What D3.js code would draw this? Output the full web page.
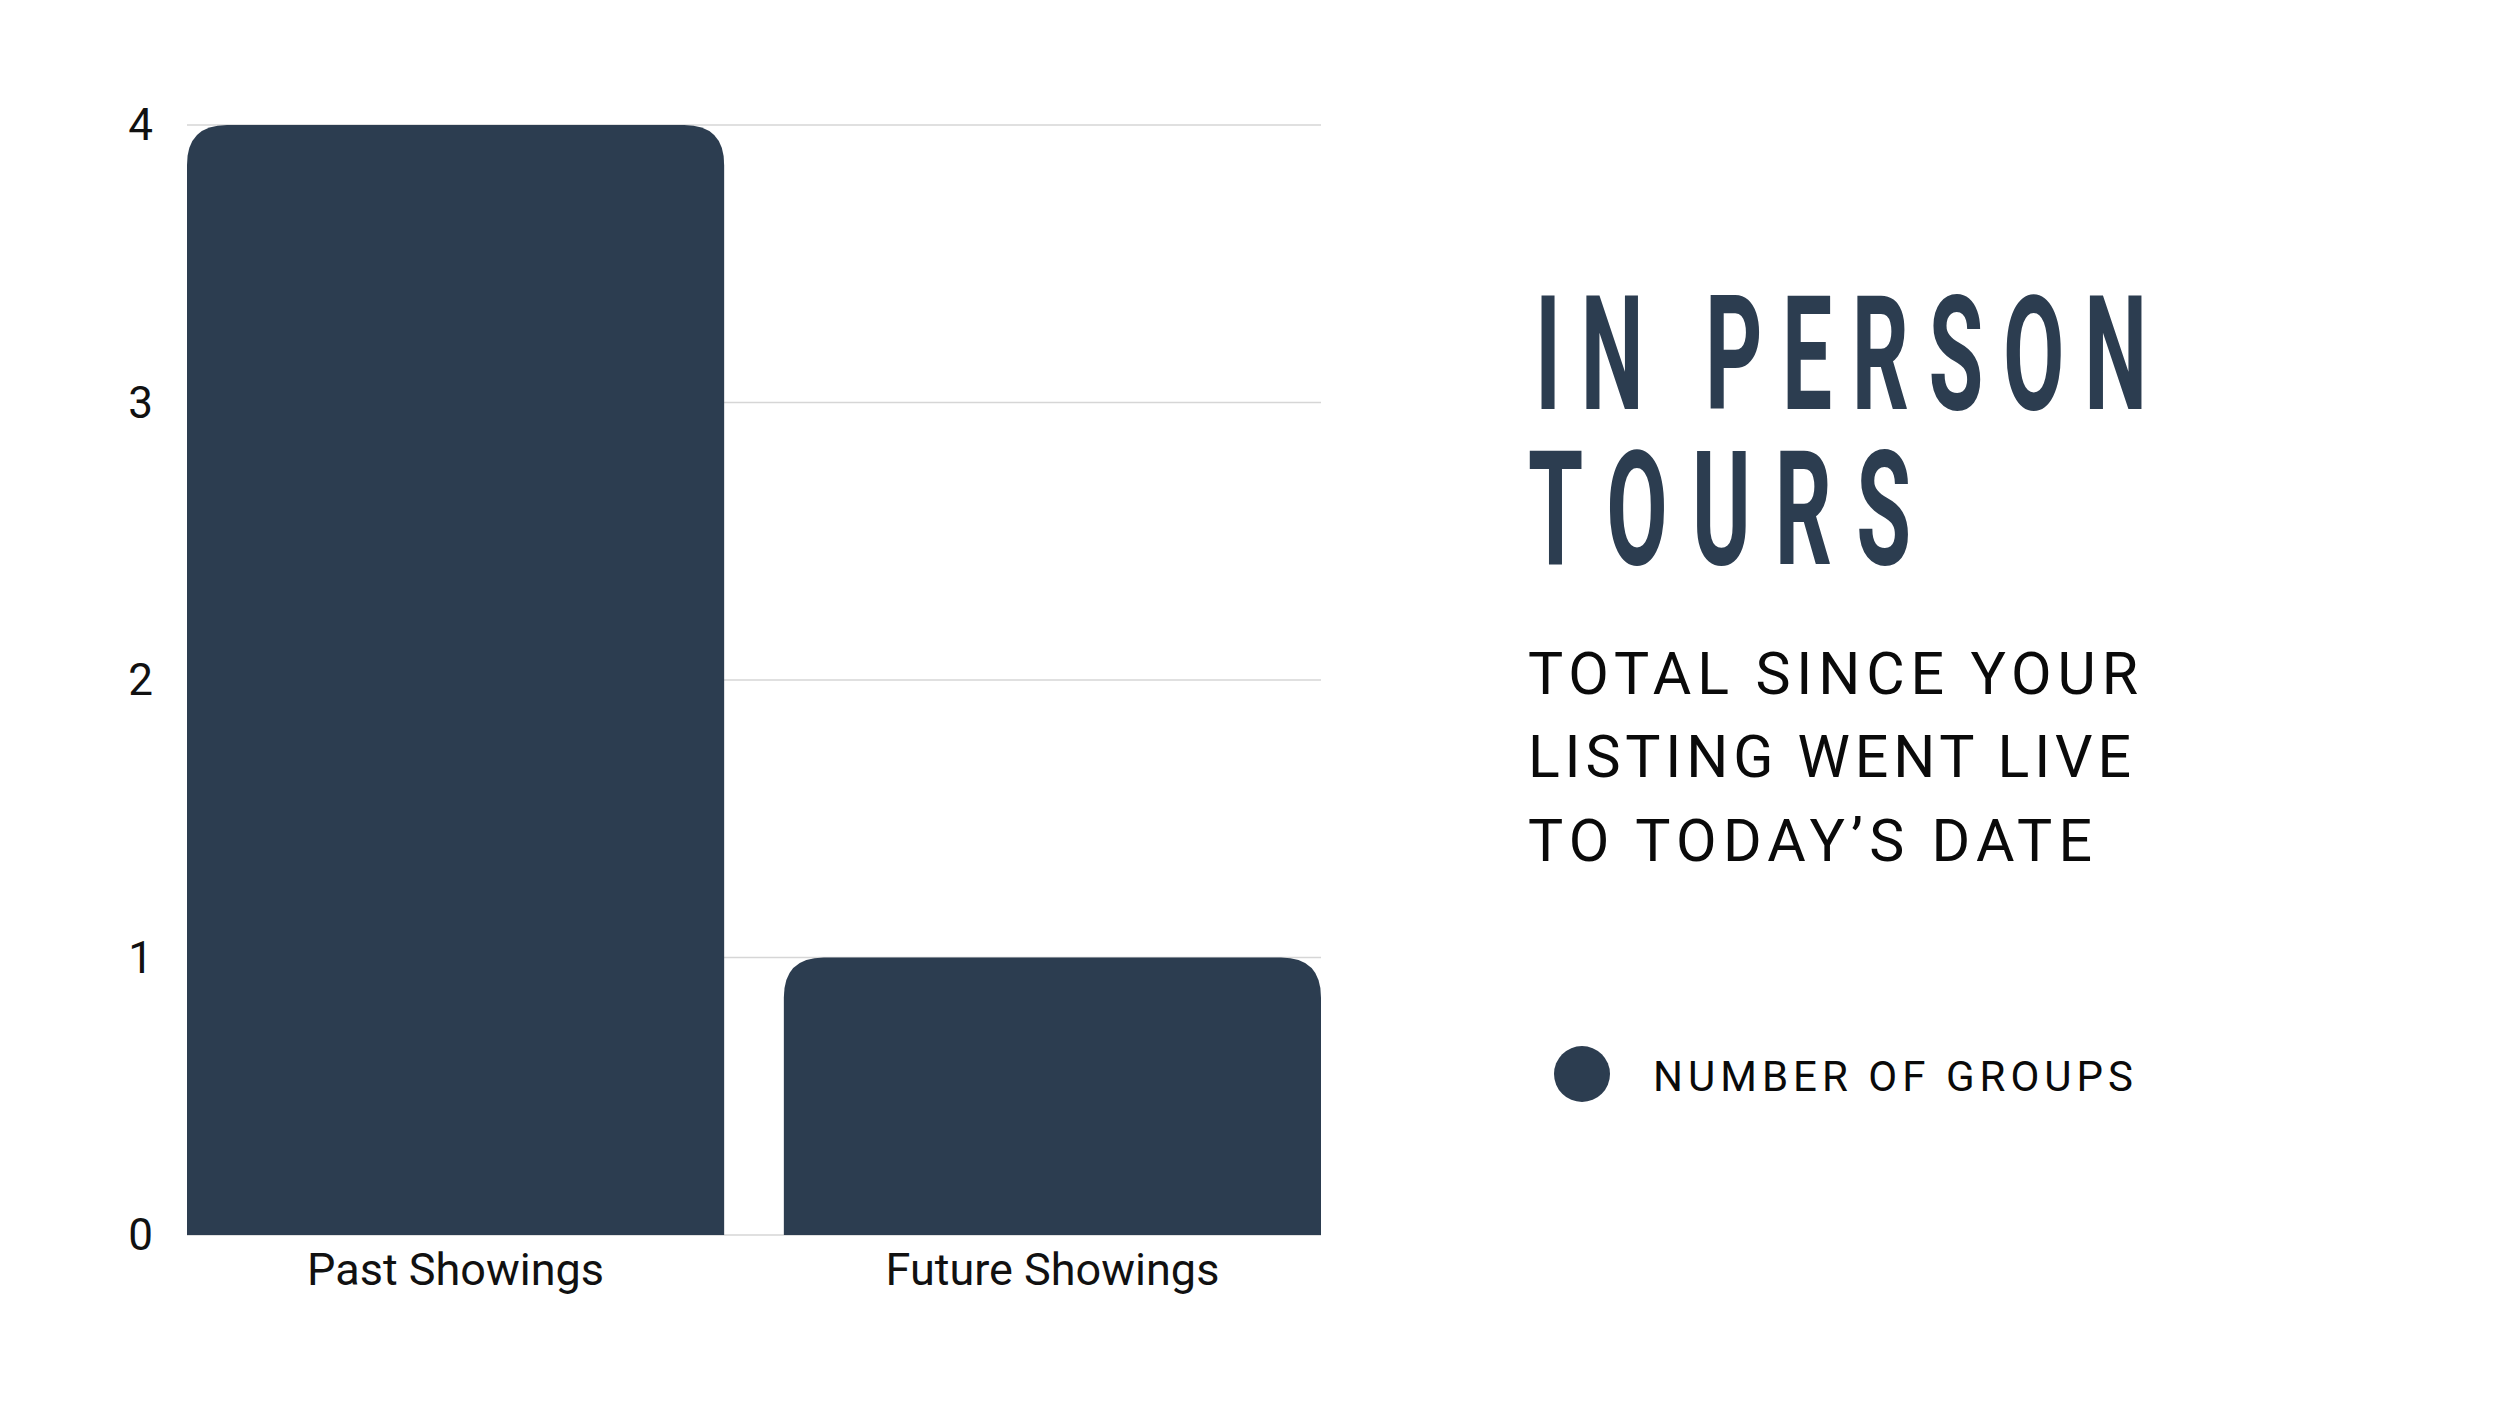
<!DOCTYPE html>
<html>
<head>
<meta charset="utf-8">
<script src="https://cdn.jsdelivr.net/npm/d3@7"></script>
<style>
  html, body { margin: 0; padding: 0; background: #ffffff; }
  svg { display: block; }
</style>
</head>
<body>
<svg id="chart" width="2500" height="1406"></svg>
<script>
// ---- data ----
const categories = ["Past Showings", "Future Showings"];
const values = [4, 1];
const yTicks = [0, 1, 2, 3, 4];
const seriesName = "NUMBER OF GROUPS";
const titleLines = ["IN PERSON", "TOURS"];
const subtitleLines = ["TOTAL SINCE YOUR", "LISTING WENT LIVE", "TO TODAY\u2019S DATE"];

// ---- style ----
const barColor = "#2c3d50";
const gridColor = "#d6d6d6";
const W = 2500, H = 1406;
const plot = { left: 187, right: 1321, top: 125, bottom: 1235 };

const svg = d3.select("#chart");
svg.append("rect").attr("width", W).attr("height", H).attr("fill", "#fff");

const x = d3.scaleBand().domain(categories).range([plot.left, plot.right])
  .paddingInner(0.1).paddingOuter(0);
const y = d3.scaleLinear().domain([0, 4]).range([plot.bottom, plot.top]);

// gridlines
svg.append("g").selectAll("line").data(yTicks).join("line")
  .attr("x1", plot.left).attr("x2", plot.right)
  .attr("y1", d => y(d)).attr("y2", d => y(d))
  .attr("stroke", gridColor).attr("stroke-width", 1.5);

// y tick labels (axis with hidden domain/ticks)
const yAxis = d3.axisLeft(y).tickValues(yTicks).tickSize(0).tickPadding(0).tickFormat(d3.format("d"));
const yg = svg.append("g").attr("transform", `translate(${plot.left - 34},0)`).call(yAxis);
yg.select(".domain").remove();
yg.selectAll("text").attr("font-family", "Roboto, sans-serif").attr("font-size", 44)
  .attr("fill", "#111").attr("dy", "0.34em");

// bars with rounded top corners
const r = 40;
function barPath(d, i) {
  const x0 = x(categories[i]), x1 = x0 + x.bandwidth();
  const y0 = y(0), yt = y(d);
  const rr = Math.min(r, (y0 - yt));
  return `M${x0},${y0} L${x0},${yt + rr} Q${x0},${yt} ${x0 + rr},${yt} L${x1 - rr},${yt} Q${x1},${yt} ${x1},${yt + rr} L${x1},${y0} Z`;
}
svg.append("g").selectAll("path").data(values).join("path")
  .attr("d", barPath).attr("fill", barColor);

// x axis labels
const xAxis = d3.axisBottom(x).tickSize(0).tickPadding(0);
const xg = svg.append("g").attr("transform", `translate(0,${plot.bottom})`).call(xAxis);
xg.select(".domain").remove();
xg.selectAll("text").attr("font-family", "Roboto, sans-serif").attr("font-size", 45)
  .attr("fill", "#111").attr("dy", null).attr("y", 50);

// title (condensed via horizontal scale), one text element with two lines
const sx = 0.56;
const titleSpec = [
  { left: 1535, base: 409, width: 612 },
  { left: 1528, base: 564, width: 383 }
];
const title = svg.append("g").attr("transform", `scale(${sx},1)`)
  .append("text")
  .attr("font-family", "Roboto, sans-serif").attr("font-weight", 700)
  .attr("font-size", 159).attr("fill", barColor);
titleLines.forEach((t, i) => {
  const s = titleSpec[i];
  title.append("tspan").text(t)
    .attr("x", s.left / sx).attr("y", s.base)
    .attr("textLength", s.width / sx).attr("lengthAdjust", "spacing");
});

// subtitle
const subSpec = [
  { base: 694, width: 610 },
  { base: 777, width: 603 },
  { base: 861, width: 564 }
];
subtitleLines.forEach((t, i) => {
  svg.append("text").text(t)
    .attr("x", 1528).attr("y", subSpec[i].base)
    .attr("font-family", "Roboto, sans-serif").attr("font-size", 59)
    .attr("fill", "#0a0a0a")
    .attr("textLength", subSpec[i].width).attr("lengthAdjust", "spacing");
});

// legend
const lg = svg.append("g");
lg.append("circle").attr("cx", 1582).attr("cy", 1074).attr("r", 28).attr("fill", barColor);
lg.append("text").text(seriesName)
  .attr("x", 1653).attr("y", 1091)
  .attr("font-family", "Roboto, sans-serif").attr("font-size", 42)
  .attr("fill", "#0a0a0a")
  .attr("textLength", 480).attr("lengthAdjust", "spacing");
</script>
</body>
</html>
